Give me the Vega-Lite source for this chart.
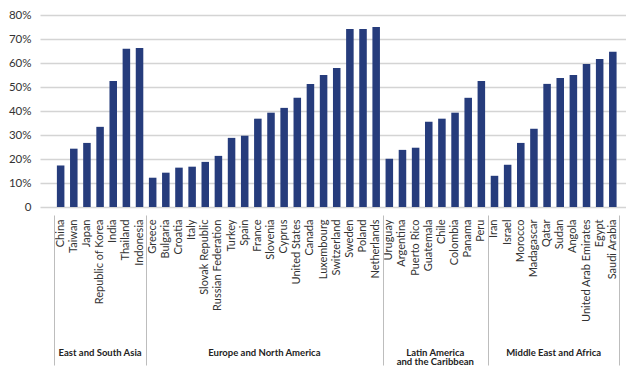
{
  "$schema": "https://vega.github.io/schema/vega-lite/v6.json",
  "width": 586,
  "height": 192,
  "autosize": "none",
  "padding": {"left": 40, "top": 15, "right": 0, "bottom": 172},
  "background": "white",
  "config": {
    "view": {"stroke": null},
    "font": "Lato",
    "axis": {"labelFont": "Lato", "titleFont": "Lato"}
  },
  "data": {
    "values": [
      {"country": "China", "group": "East and South Asia", "pct": 17.3},
      {"country": "Taiwan", "group": "East and South Asia", "pct": 24.3},
      {"country": "Japan", "group": "East and South Asia", "pct": 26.7},
      {"country": "Republic of Korea", "group": "East and South Asia", "pct": 33.4},
      {"country": "India", "group": "East and South Asia", "pct": 52.5},
      {"country": "Thailand", "group": "East and South Asia", "pct": 65.9},
      {"country": "Indonesia", "group": "East and South Asia", "pct": 66.3},
      {"country": "Greece", "group": "Europe and North America", "pct": 12.2},
      {"country": "Bulgaria", "group": "Europe and North America", "pct": 14.3},
      {"country": "Croatia", "group": "Europe and North America", "pct": 16.4},
      {"country": "Italy", "group": "Europe and North America", "pct": 16.8},
      {"country": "Slovak Republic", "group": "Europe and North America", "pct": 18.8},
      {"country": "Russian Federation", "group": "Europe and North America", "pct": 21.3},
      {"country": "Turkey", "group": "Europe and North America", "pct": 28.8},
      {"country": "Spain", "group": "Europe and North America", "pct": 29.7},
      {"country": "France", "group": "Europe and North America", "pct": 36.8},
      {"country": "Slovenia", "group": "Europe and North America", "pct": 39.3},
      {"country": "Cyprus", "group": "Europe and North America", "pct": 41.3},
      {"country": "United States", "group": "Europe and North America", "pct": 45.5},
      {"country": "Canada", "group": "Europe and North America", "pct": 51.3},
      {"country": "Luxembourg", "group": "Europe and North America", "pct": 55.0},
      {"country": "Switzerland", "group": "Europe and North America", "pct": 57.9},
      {"country": "Sweden", "group": "Europe and North America", "pct": 74.2},
      {"country": "Poland", "group": "Europe and North America", "pct": 74.2},
      {"country": "Netherlands", "group": "Europe and North America", "pct": 75.0},
      {"country": "Uruguay", "group": "Latin America and the Caribbean", "pct": 20.1},
      {"country": "Argentina", "group": "Latin America and the Caribbean", "pct": 23.8},
      {"country": "Puerto Rico", "group": "Latin America and the Caribbean", "pct": 24.7},
      {"country": "Guatemala", "group": "Latin America and the Caribbean", "pct": 35.5},
      {"country": "Chile", "group": "Latin America and the Caribbean", "pct": 36.8},
      {"country": "Colombia", "group": "Latin America and the Caribbean", "pct": 39.3},
      {"country": "Panama", "group": "Latin America and the Caribbean", "pct": 45.5},
      {"country": "Peru", "group": "Latin America and the Caribbean", "pct": 52.5},
      {"country": "Iran", "group": "Middle East and Africa", "pct": 13.0},
      {"country": "Israel", "group": "Middle East and Africa", "pct": 17.6},
      {"country": "Morocco", "group": "Middle East and Africa", "pct": 26.7},
      {"country": "Madagascar", "group": "Middle East and Africa", "pct": 32.6},
      {"country": "Qatar", "group": "Middle East and Africa", "pct": 51.3},
      {"country": "Sudan", "group": "Middle East and Africa", "pct": 53.8},
      {"country": "Angola", "group": "Middle East and Africa", "pct": 55.0},
      {"country": "United Arab Emirates", "group": "Middle East and Africa", "pct": 59.6},
      {"country": "Egypt", "group": "Middle East and Africa", "pct": 61.7},
      {"country": "Saudi Arabia", "group": "Middle East and Africa", "pct": 64.7}
    ]
  },
  "layer": [
    {
      "mark": {"type": "bar", "color": "#263c7c"},
      "encoding": {
        "x": {
          "field": "country", "type": "nominal", "sort": null, "title": null,
          "scale": {"paddingInner": 0.427, "paddingOuter": 1.088, "align": 0.642},
          "axis": {
            "orient": "bottom", "labelAngle": -90, "labelAlign": "right", "labelBaseline": "middle",
            "ticks": false, "domain": false, "grid": false, "labelPadding": 12,
            "labelFontSize": 11, "labelColor": "#333333", "labelOverlap": false, "labelLimit": 200
          }
        },
        "y": {
          "field": "pct", "type": "quantitative", "title": null,
          "scale": {"domain": [0, 80], "nice": false},
          "axis": {
            "values": [0, 10, 20, 30, 40, 50, 60, 70, 80],
            "labelExpr": "datum.value === 0 ? '0' : datum.value + '%'",
            "grid": true, "gridColor": "#d4d4d4", "gridWidth": 1.3,
            "domain": false, "ticks": false, "labelPadding": 9,
            "labelFontSize": 11.5, "labelColor": "#333333"
          }
        }
      }
    },
    {
      "mark": {"type": "bar", "opacity": 0},
      "encoding": {
        "x": {
          "field": "country", "type": "nominal", "sort": null, "title": null,
          "axis": {
            "orient": "bottom", "values": ["China", "Greece", "Uruguay", "Iran"],
            "bandPosition": 0, "tickOffset": -2.8,
            "ticks": true, "tickSize": 150, "tickColor": "#bdbdbd", "tickWidth": 1,
            "offset": 8, "labels": false, "domain": false, "grid": false
          }
        }
      }
    },
    {
      "mark": {"type": "bar", "opacity": 0},
      "encoding": {
        "x": {
          "field": "country", "type": "nominal", "sort": null, "title": null,
          "axis": {
            "orient": "bottom", "values": ["Saudi Arabia"],
            "bandPosition": 1, "tickOffset": 2,
            "ticks": true, "tickSize": 150, "tickColor": "#bdbdbd", "tickWidth": 1,
            "offset": 8, "labels": false, "domain": false, "grid": false
          }
        }
      }
    },
    {
      "mark": {"type": "bar", "opacity": 0},
      "encoding": {
        "x": {
          "field": "country", "type": "nominal", "sort": null, "title": null,
          "axis": {
            "orient": "bottom", "values": ["Republic of Korea", "France", "Guatemala", "Qatar"],
            "labelExpr": "datum.value == 'Republic of Korea' ? 'East and South Asia' : datum.value == 'France' ? 'Europe and North America' : datum.value == 'Guatemala' ? ['Latin America', 'and the Caribbean'] : 'Middle East and Africa'",
            "labelAngle": 0, "labelAlign": "center", "labelBaseline": "top",
            "labelOffset": {"condition": {"test": "datum.value == 'Republic of Korea'", "value": 0}, "value": 6.55},
            "ticks": false, "tickSize": 0, "domain": false, "grid": false, "labelPadding": 140,
            "labelFontSize": 9.5, "labelFontWeight": "bold", "labelColor": "#222222",
            "labelLineHeight": 9.5, "labelOverlap": false, "labelLimit": 300
          }
        }
      }
    }
  ],
  "resolve": {"axis": {"x": "independent"}}
}
